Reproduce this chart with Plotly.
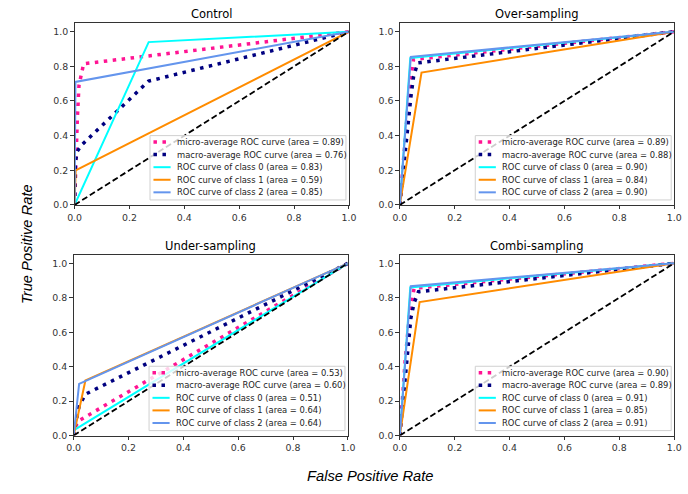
import plotly.graph_objects as go

FIG_W, FIG_H = 688, 494

panel_titles = ["Control", "Over-sampling", "Under-sampling", "Combi-sampling"]
series_names = ["micro-average ROC curve", "macro-average ROC curve",
                "ROC curve of class 0", "ROC curve of class 1", "ROC curve of class 2"]
series_colors = ["#FF1493", "#000080", "#00FFFF", "#FF8C00", "#6495ED"]
series_dash = ["3.5px,5.5px", "3.5px,5.5px", "solid", "solid", "solid"]
series_width = [3.5, 3.5, 2, 2, 2]

# Control
control_fpr = [[0, 0.004, 0.01, 0.016, 0.033, 1],
               [0, 0.003, 0.01, 0.025, 0.27, 1],
               [0, 0.27, 1],
               [0, 0.004, 1],
               [0, 0.003, 1]]
control_tpr = [[0, 0.23, 0.5, 0.69, 0.815, 1],
               [0, 0.25, 0.31, 0.345, 0.715, 1],
               [0, 0.94, 1],
               [0, 0.2, 1],
               [0, 0.71, 1]]
control_auc = [0.89, 0.76, 0.83, 0.59, 0.85]

# Over-sampling
over_fpr = [[0, 0.02, 0.035, 0.05, 1],
            [0, 0.02, 0.04, 0.05, 0.065, 1],
            [0, 0.038, 1],
            [0, 0.079, 1],
            [0, 0.04, 1]]
over_tpr = [[0, 0.42, 0.68, 0.84, 1],
            [0, 0.33, 0.62, 0.74, 0.82, 1],
            [0, 0.848, 1],
            [0, 0.764, 1],
            [0, 0.855, 1]]
over_auc = [0.89, 0.88, 0.90, 0.84, 0.90]

# Under-sampling
under_fpr = [[0, 0.003, 0.019, 1],
             [0, 0.0, 0.02, 0.043, 1],
             [0, 0.0, 1],
             [0, 0.043, 1],
             [0, 0.02, 1]]
under_tpr = [[0, 0.04, 0.086, 1],
             [0, 0.01, 0.17, 0.24, 1],
             [0, 0.03, 1],
             [0, 0.32, 1],
             [0, 0.30, 1]]
under_auc = [0.53, 0.60, 0.51, 0.64, 0.64]

# Combi-sampling
combi_fpr = [[0, 0.02, 0.035, 0.052, 1],
             [0, 0.02, 0.04, 0.052, 0.068, 1],
             [0, 0.038, 1],
             [0, 0.072, 1],
             [0, 0.04, 1]]
combi_tpr = [[0, 0.45, 0.70, 0.855, 1],
             [0, 0.35, 0.68, 0.77, 0.835, 1],
             [0, 0.86, 1],
             [0, 0.775, 1],
             [0, 0.867, 1]]
combi_auc = [0.90, 0.89, 0.91, 0.85, 0.91]

diag = [0, 1]

panels = [(control_fpr, control_tpr, control_auc),
          (over_fpr, over_tpr, over_auc),
          (under_fpr, under_tpr, under_auc),
          (combi_fpr, combi_tpr, combi_auc)]

# axes pixel boxes (left, right, top, bottom)
boxes = [(69, 349, 23.3, 207), (401, 681, 23.3, 207),
         (68, 348, 257.3, 440), (401, 681, 257.3, 440)]

fig = go.Figure()
layout = dict(width=FIG_W, height=FIG_H, margin=dict(l=0, r=0, t=0, b=0),
              paper_bgcolor="white", plot_bgcolor="white", showlegend=False)

tickfont = dict(family="DejaVu Sans", size=9.4, color="#333")
shapes = []
annotations = []

for k, (fpr, tpr, auc) in enumerate(panels):
    ax = "" if k == 0 else str(k + 1)
    xr, yr = "x" + ax, "y" + ax
    l, r, t, b = boxes[k]
    axis_common = dict(showline=True, mirror=True, linecolor="#333", linewidth=1,
                       ticks="outside", ticklen=3.5, tickwidth=1, tickcolor="#333",
                       showgrid=False, zeroline=False, tickfont=tickfont,
                       tickformat=".1f", dtick=0.2, tick0=0)
    layout["xaxis" + ax] = dict(domain=[l / FIG_W, r / FIG_W], range=[0, 1],
                                anchor=yr, **axis_common)
    layout["yaxis" + ax] = dict(domain=[1 - b / FIG_H, 1 - t / FIG_H], range=[0, 1.05],
                                anchor=xr, **axis_common)
    for i in range(5):
        fig.add_trace(go.Scatter(x=fpr[i], y=tpr[i], mode="lines", xaxis=xr, yaxis=yr,
                                 line=dict(color=series_colors[i], width=series_width[i],
                                           dash=series_dash[i]),
                                 hoverinfo="skip"))
    fig.add_trace(go.Scatter(x=diag, y=diag, mode="lines", xaxis=xr, yaxis=yr,
                             line=dict(color="black", width=1.8, dash="6px,3px"),
                             hoverinfo="skip"))

    # title
    annotations.append(dict(text=panel_titles[k], xref=xr + " domain", yref=yr + " domain",
                            x=0.5, y=1, yshift=0, xanchor="center", yanchor="bottom",
                            showarrow=False,
                            font=dict(family="DejaVu Sans", size=11.5, color="black")))

    # legend (lower right)
    aw, ah = r - l, b - t
    x1 = 1 - 3 / aw
    x0 = x1 - 200 / aw
    y0 = 5 / ah
    y1 = y0 + 65 / ah
    xd, yd = xr + " domain", yr + " domain"
    shapes.append(dict(type="rect", xref=xd, yref=yd, x0=x0, x1=x1, y0=y0, y1=y1,
                       fillcolor="rgba(255,255,255,0.8)",
                       line=dict(color="#d0d0d0", width=1), layer="above"))
    for i in range(5):
        yc = y1 - (6.5 + 12.7 * i) / ah
        shapes.append(dict(type="line", xref=xd, yref=yd,
                           x0=x0 + 3.5 / aw, x1=x0 + 21 / aw, y0=yc, y1=yc,
                           line=dict(color=series_colors[i], width=series_width[i],
                                     dash=series_dash[i]), layer="above"))
        annotations.append(dict(text=f"{series_names[i]} (area = {auc[i]:.2f})",
                                xref=xd, yref=yd, x=x0 + 25 / aw, y=yc,
                                xanchor="left", yanchor="middle", showarrow=False,
                                font=dict(family="DejaVu Sans", size=8.4, color="#222")))

annotations.append(dict(text="<i>False Positive Rate</i>", xref="paper", yref="paper",
                        x=371 / FIG_W, y=1 - 481 / FIG_H, xanchor="center", yanchor="middle",
                        showarrow=False,
                        font=dict(family="Liberation Sans", size=14.7, color="black")))
annotations.append(dict(text="<i>True Positive Rate</i>", xref="paper", yref="paper",
                        x=20 / FIG_W, y=1 - 247 / FIG_H, xanchor="center", yanchor="middle",
                        textangle=-90, showarrow=False,
                        font=dict(family="Liberation Sans", size=14.7, color="black")))

layout["shapes"] = shapes
layout["annotations"] = annotations
fig.update_layout(**layout)
fig.write_html("out.html")
